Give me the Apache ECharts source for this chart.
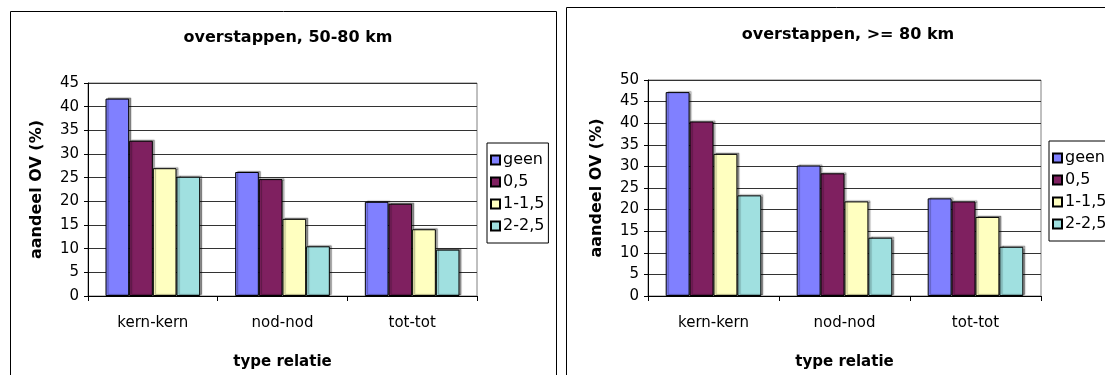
<!DOCTYPE html>
<html>
<head>
<meta charset="utf-8">
<script src="https://cdn.jsdelivr.net/npm/echarts@6/dist/echarts.min.js"></script>
<style>
  html, body { margin: 0; padding: 0; background: #fff; }
  #chart { width: 1105px; height: 375px; }
</style>
</head>
<body>
<div id="chart"></div>
<script>
// Share of public transport (%) by relation type and number of transfers
const categories = ['kern-kern', 'nod-nod', 'tot-tot'];
const seriesNames = ['geen', '0,5', '1-1,5', '2-2,5'];

// 50-80 km
const mid_geen = [41.7, 26.2, 19.9];
const mid_05   = [32.8, 24.7, 19.5];
const mid_1_15 = [27.0, 16.3, 14.1];
const mid_2_25 = [25.2, 10.5, 9.8];

// >= 80 km
const far_geen = [47.2, 30.2, 22.6];
const far_05   = [40.4, 28.4, 21.9];
const far_1_15 = [32.9, 21.9, 18.3];
const far_2_25 = [23.3, 13.5, 11.4];

const yTicksLeft = { min: 0, max: 45, interval: 5 };
const yTicksRight = { min: 0, max: 50, interval: 5 };

const titles = ['overstappen, 50-80 km', 'overstappen, >= 80 km'];
const xName = 'type relatie';
const yName = 'aandeel OV (%)';

const colors = ['#8080FF', '#7F2060', '#FFFFC0', '#A0E0E0'];
const FONT = 'DejaVu Sans';

const chart = echarts.init(document.getElementById('chart'), null, { renderer: 'canvas' });

function xAxisFor(gridIndex) {
  return {
    type: 'category',
    gridIndex,
    data: categories,
    name: xName,
    nameLocation: 'middle',
    nameGap: 59,
    nameTextStyle: { fontFamily: FONT, fontWeight: 'bold', fontSize: 15, color: '#000' },
    axisLine: { lineStyle: { color: '#000', width: 1 } },
    axisTick: { show: true, alignWithLabel: false, length: 5, lineStyle: { color: '#000' } },
    axisLabel: { fontFamily: FONT, fontSize: 15, color: '#000', margin: 20 },
    splitLine: { show: false }
  };
}

function yAxisFor(gridIndex, ticks) {
  return {
    type: 'value',
    gridIndex,
    min: ticks.min,
    max: ticks.max,
    interval: ticks.interval,
    name: yName,
    nameLocation: 'middle',
    nameGap: 43,
    nameRotate: 90,
    nameTextStyle: { fontFamily: FONT, fontWeight: 'bold', fontSize: 16, color: '#000' },
    axisLine: { show: true, lineStyle: { color: '#000', width: 1 } },
    axisTick: { show: true, length: 4, lineStyle: { color: '#000' } },
    axisLabel: { fontFamily: FONT, fontSize: 15, color: '#000', margin: 9 },
    splitLine: { show: true, lineStyle: { color: '#333', width: 1 } }
  };
}

function barSeries(name, data, idx, axisIndex) {
  return {
    name,
    type: 'bar',
    xAxisIndex: axisIndex,
    yAxisIndex: axisIndex,
    data,
    barGap: '0%',
    barCategoryGap: '27%',
    itemStyle: {
      color: colors[idx],
      borderColor: '#000',
      borderWidth: 1,
      shadowColor: 'rgba(0,0,0,0.35)',
      shadowOffsetX: 2,
      shadowOffsetY: -1,
      shadowBlur: 1
    },
    emphasis: { disabled: true },
    animation: false
  };
}

function legendFor(left, top) {
  return {
    data: seriesNames,
    orient: 'vertical',
    left,
    top,
    itemWidth: 9,
    itemHeight: 9,
    itemGap: 6,
    padding: [9, 4, 9, 3],
    borderColor: '#000',
    borderWidth: 1,
    backgroundColor: '#fff',
    icon: 'rect',
    selectedMode: false,
    textStyle: { fontFamily: FONT, fontSize: 16, color: '#000', padding: [0, 0, 0, -2] }
  };
}

const option = {
  animation: false,
  backgroundColor: '#fff',
  textStyle: { fontFamily: FONT },
  title: [
    { text: titles[0], left: 283, top: 25, textAlign: 'center',
      textStyle: { fontFamily: FONT, fontWeight: 'bold', fontSize: 16, color: '#000' } },
    { text: titles[1], left: 843, top: 22, textAlign: 'center',
      textStyle: { fontFamily: FONT, fontWeight: 'bold', fontSize: 16, color: '#000' } }
  ],
  legend: [legendFor(487, 143), legendFor(1049, 141)],
  grid: [
    { left: 88, top: 83, width: 389, height: 217, show: true, borderColor: '#808080', borderWidth: 1, backgroundColor: '#fff' },
    { left: 648, top: 80, width: 393, height: 219, show: true, borderColor: '#808080', borderWidth: 1, backgroundColor: '#fff' }
  ],
  xAxis: [xAxisFor(0), xAxisFor(1)],
  yAxis: [yAxisFor(0, yTicksLeft), yAxisFor(1, yTicksRight)],
  series: [
    barSeries(seriesNames[0], mid_geen, 0, 0),
    barSeries(seriesNames[1], mid_05, 1, 0),
    barSeries(seriesNames[2], mid_1_15, 2, 0),
    barSeries(seriesNames[3], mid_2_25, 3, 0),
    barSeries(seriesNames[0], far_geen, 0, 1),
    barSeries(seriesNames[1], far_05, 1, 1),
    barSeries(seriesNames[2], far_1_15, 2, 1),
    barSeries(seriesNames[3], far_2_25, 3, 1)
  ],
  graphic: [
    // frames around each chart panel (they run past the bottom edge)
    { type: 'rect', shape: { x: 10.5, y: 11.5, width: 546, height: 420 },
      style: { fill: null, stroke: '#000', lineWidth: 1 }, silent: true, z: 100 },
    { type: 'rect', shape: { x: 566.5, y: 7.5, width: 600, height: 420 },
      style: { fill: null, stroke: '#000', lineWidth: 1 }, silent: true, z: 100 }
  ]
};

chart.setOption(option);
</script>
</body>
</html>
